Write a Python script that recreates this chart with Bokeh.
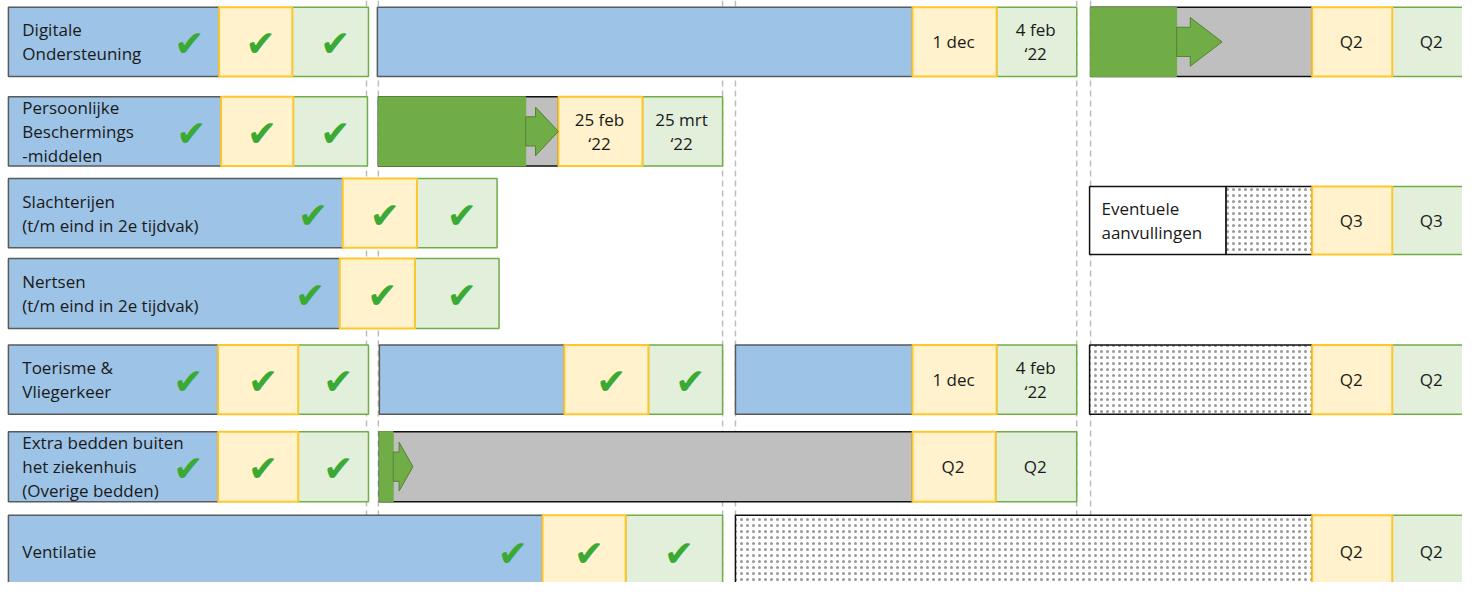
from bokeh.plotting import figure
from bokeh.models import Range1d, ColumnDataSource
from bokeh.embed import file_html
from bokeh.resources import INLINE
from bokeh.core.properties import value

# ---------------- data ----------------
lane_names = ["Digitale\nOndersteuning",
              "Persoonlijke\nBeschermings\n-middelen",
              "Slachterijen\n(t/m eind in 2e tijdvak)",
              "Nertsen\n(t/m eind in 2e tijdvak)",
              "Toerisme &\nVliegerkeer",
              "Extra bedden buiten\nhet ziekenhuis\n(Overige bedden)",
              "Ventilatie",
              ""]
lane_top = [7, 99, 183, 265, 354, 443, 529, 191]
lane_bottom = [78, 170, 254, 337, 425, 515, 604, 261]

# B=blue, Y=yellow, G=light green, R=grey frame, D=dark green, P=dotted, W=white
seg_lane = [0, 0, 0, 0, 0, 0, 0, 0, 0, 0,
            1, 1, 1, 1, 1, 1, 1,
            2, 2, 2,
            3, 3, 3,
            4, 4, 4, 4, 4, 4, 4, 4, 4, 4, 4, 4,
            5, 5, 5, 5, 5, 5, 5,
            6, 6, 6, 6, 6, 6,
            7, 7, 7, 7]
seg_start = [8, 221, 295, 381, 922, 1007, 1102, 1102, 1326, 1407,
             8, 223, 296, 382, 382, 564, 649,
             8, 346, 421,
             8, 343, 419,
             8, 220, 301, 383, 570, 655, 743, 922, 1007, 1101, 1326, 1407,
             8, 220, 301, 383, 383, 922, 1006,
             8, 548, 632, 743, 1326, 1407,
             1101, 1239, 1326, 1407]
seg_end = [221, 295, 372, 922, 1007, 1088, 1326, 1189, 1407, 1492,
           223, 296, 371, 564, 531, 649, 730,
           346, 421, 502,
           343, 419, 504,
           220, 301, 372, 570, 655, 730, 922, 1007, 1088, 1326, 1407, 1492,
           220, 301, 372, 922, 397, 1006, 1088,
           548, 632, 730, 1326, 1407, 1492,
           1239, 1326, 1407, 1492]
seg_kind = ["B", "Y", "G", "B", "Y", "G", "R", "D", "Y", "G",
            "B", "Y", "G", "R", "D", "Y", "G",
            "B", "Y", "G",
            "B", "Y", "G",
            "B", "Y", "G", "B", "Y", "G", "B", "Y", "G", "P", "Y", "G",
            "B", "Y", "G", "R", "D", "Y", "G",
            "B", "Y", "G", "P", "Y", "G",
            "W", "P", "Y", "G"]
seg_check = [1, 1, 1, 0, 0, 0, 0, 0, 0, 0,
             1, 1, 1, 0, 0, 0, 0,
             1, 1, 1,
             1, 1, 1,
             1, 1, 1, 0, 1, 1, 0, 0, 0, 0, 0, 0,
             1, 1, 1, 0, 0, 0, 0,
             1, 1, 1, 0, 0, 0,
             0, 0, 0, 0]
seg_label = ["", "", "", "", "1 dec", "4 feb\n\u201822", "", "", "Q2", "Q2",
             "", "", "", "", "", "25 feb\n\u201822", "25 mrt\n\u201822",
             "", "", "",
             "", "", "",
             "", "", "", "", "", "", "", "1 dec", "4 feb\n\u201822", "", "Q2", "Q2",
             "", "", "", "", "", "Q2", "Q2",
             "", "", "", "", "Q2", "Q2",
             "Eventuele\naanvullingen", "", "Q3", "Q3"]

# progress arrows: lane, start, end
arrow_lane = [0, 1, 5]
arrow_start = [1189, 531, 397]
arrow_end = [1235, 564, 417]

# period boundaries (dashed separators)
period_bounds = [370, 382, 730, 743, 1088, 1102]

# ---------------- styles ----------------
styles = {
    "B": dict(fill_color="#9DC3E6", line_color="#5A5A5A", line_width=1.5),
    "Y": dict(fill_color="#FFF2CC", line_color="#FFC72C", line_width=2),
    "G": dict(fill_color="#E2EFDA", line_color="#70AD47", line_width=1.5),
    "R": dict(fill_color="#BFBFBF", line_color="#111111", line_width=1.5),
    "D": dict(fill_color="#70AD47", line_color="#70AD47", line_width=1),
    "P": dict(fill_color="#FFFFFF", line_color="#111111", line_width=1.5,
              hatch_pattern="dot", hatch_color="#444444", hatch_scale=6,
              hatch_weight=0.6, hatch_alpha=0.55),
    "W": dict(fill_color="#FFFFFF", line_color="#111111", line_width=1.5),
}
draw_order = ["R", "D", "B", "G", "W", "P", "Y"]

FONT = value("Open Sans")
TXT = "#1A1A1A"
CHECK = "#3AAA35"

p = figure(width=1462, height=582, output_backend="svg", toolbar_location=None,
           x_range=Range1d(0, 1478), y_range=Range1d(598, 0),
           min_border=0)
p.axis.visible = False
p.grid.visible = False
p.outline_line_color = None
p.background_fill_color = "white"
p.border_fill_color = "white"

# dashed separators
for xb in period_bounds:
    p.segment(x0=[xb], y0=[0], x1=[xb], y1=[600], line_color="#BDBDBD",
              line_width=1.5, line_dash="6 4")

n = len(seg_start)
for k in draw_order:
    idx = [i for i in range(n) if seg_kind[i] == k]
    if not idx:
        continue
    src = ColumnDataSource(dict(
        left=[seg_start[i] for i in idx],
        right=[seg_end[i] for i in idx],
        top=[lane_top[seg_lane[i]] for i in idx],
        bottom=[lane_bottom[seg_lane[i]] for i in idx],
    ))
    p.quad(left="left", right="right", top="top", bottom="bottom", source=src,
           **styles[k])

# arrows
axs, ays = [], []
for ln, x0, x1 in zip(arrow_lane, arrow_start, arrow_end):
    yc = (lane_top[ln] + lane_bottom[ln]) / 2
    xm = x0 + 0.3 * (x1 - x0)
    axs.append([x0, xm, xm, x1, xm, xm, x0])
    ays.append([yc - 15, yc - 15, yc - 25, yc, yc + 25, yc + 15, yc + 15])
p.patches(axs, ays, fill_color="#70AD47", line_color="#548235", line_width=1)

# row names (first segment of each lane)
nx, ny, nt = [], [], []
for ln, name in enumerate(lane_names):
    if not name:
        continue
    first = min(seg_start[i] for i in range(n) if seg_lane[i] == ln)
    nx.append(first + 14)
    ny.append((lane_top[ln] + lane_bottom[ln]) / 2)
    nt.append(name)
p.text(x=nx, y=ny, text=nt, text_align="left", text_baseline="middle",
       text_font=FONT, text_font_size="17px", text_color=TXT,
       text_line_height=1.05)

# cell labels
lx, ly, lt, la = [], [], [], []
for i in range(n):
    if not seg_label[i]:
        continue
    ln = seg_lane[i]
    yc = (lane_top[ln] + lane_bottom[ln]) / 2
    if seg_kind[i] == "W":
        lx.append(seg_start[i] + 12)
        la.append("left")
    else:
        right = min(seg_end[i], 1488)
        lx.append((seg_start[i] + right) / 2 - 1)
        la.append("center")
    ly.append(yc)
    lt.append(seg_label[i])
p.text(x=lx, y=ly, text=lt, text_align=la, text_baseline="middle",
       text_font=FONT, text_font_size="17px", text_color=TXT,
       text_line_height=1.05)

# check marks
cx, cy = [], []
for i in range(n):
    if not seg_check[i]:
        continue
    ln = seg_lane[i]
    cy.append((lane_top[ln] + lane_bottom[ln]) / 2 + 2)
    if seg_kind[i] == "B":
        cx.append(seg_end[i] - 30)
    else:
        cx.append((seg_start[i] + seg_end[i]) / 2 + 5)
p.text(x=cx, y=cy, text=["\u2714"] * len(cx), text_align="center",
       text_baseline="middle", text_font=value("DejaVu Sans"),
       text_font_size="36px", text_color=CHECK)

open("out.html", "w").write(file_html(p, INLINE))
